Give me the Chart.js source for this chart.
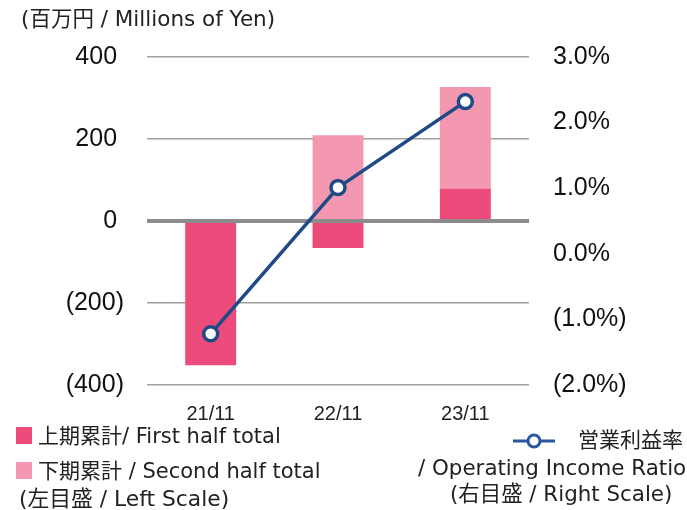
<!DOCTYPE html>
<html>
<head>
<meta charset="utf-8">
<script src="https://cdn.jsdelivr.net/npm/chart.js@4"></script>
<style>
  body { margin: 0; background: #fff; }
  #wrap { position: relative; width: 687px; height: 510px; overflow: hidden; font-family: "DejaVu Sans", "Noto Sans CJK JP", sans-serif; color: #222; }
  #grafico { position: absolute; left: 0; top: 0; }
  .txt { position: absolute; white-space: nowrap; line-height: 1; font-size: 21px; }
  .sw { position: absolute; width: 16px; height: 17px; }
</style>
</head>
<body>
<div id="wrap">
  <canvas id="grafico" width="687" height="510"></canvas>
  <div class="txt" style="left:21px; top:8px; font-size:21.5px;">(百万円 / Millions of Yen)</div>

  <div class="sw" style="left:16px; top:427px; background:#ec4b7b;"></div>
  <div class="txt" style="left:38px; top:426px;">上期累計/ First half total</div>
  <div class="sw" style="left:16px; top:462px; background:#f497b0;"></div>
  <div class="txt" style="left:38px; top:461px;">下期累計 / Second half total</div>
  <div class="txt" style="left:19px; top:488px; font-size:21.8px;">(左目盛 / Left Scale)</div>

  <canvas id="lineKey" width="46" height="20" style="position:absolute; left:511px; top:431px;"></canvas>
  <div class="txt" style="left:578px; top:430px;">営業利益率</div>
  <div class="txt" style="left:418px; top:457px; font-size:21.4px;">/ Operating Income Ratio</div>
  <div class="txt" style="left:450px; top:483px; font-size:21.4px;">(右目盛 / Right Scale)</div>
</div>
<script>
// data
const labels = ['21/11', '22/11', '23/11'];
const primeiroSemestre = [-352, -66, 79];   // 上期累計 (百万円)
const segundoSemestre = [0, 209, 248];      // 下期累計 (百万円)
const margemOperacional = [-1.22, 1.01, 2.32]; // 営業利益率 (%)
const ticksEsquerda = [-400, -200, 0, 200, 400];
const ticksDireita = [-2, -1, 0, 1, 2, 3];

const corEscura = '#ec4b7b';
const corClara = '#f497b0';
const corLinha = '#1f4a85';

// small legend key for the line series
const key = document.getElementById('lineKey').getContext('2d');
key.strokeStyle = '#2a57a0';
key.lineWidth = 3;
key.beginPath(); key.moveTo(2, 10); key.lineTo(44, 10); key.stroke();
key.fillStyle = '#fff';
key.beginPath(); key.arc(23, 10, 6, 0, Math.PI * 2); key.fill(); key.stroke();

// thick zero line, drawn over the bars but under the ratio line
const linhaZero = {
    id: 'linhaZero',
    beforeDatasetDraw(chart, args) {
        if (args.meta.type !== 'line') return;
        const y = chart.scales.y.getPixelForValue(0);
        const { left, right } = chart.chartArea;
        const ctx = chart.ctx;
        ctx.save();
        ctx.strokeStyle = '#8c8c8c';
        ctx.lineWidth = 4;
        ctx.beginPath();
        ctx.moveTo(left, y);
        ctx.lineTo(right, y);
        ctx.stroke();
        ctx.restore();
    }
};

new Chart(document.getElementById('grafico'), {
    type: 'bar',
    data: {
        labels: labels,
        datasets: [
            {
                label: '上期累計/ First half total',
                data: primeiroSemestre,
                backgroundColor: corEscura,
                yAxisID: 'y',
                stack: 's',
                order: 1,
                barPercentage: 0.4,
                categoryPercentage: 1
            },
            {
                label: '下期累計 / Second half total',
                data: segundoSemestre,
                backgroundColor: corClara,
                yAxisID: 'y',
                stack: 's',
                order: 1,
                barPercentage: 0.4,
                categoryPercentage: 1
            },
            {
                type: 'line',
                label: '営業利益率 / Operating Income Ratio',
                data: margemOperacional,
                yAxisID: 'y1',
                order: 0,
                borderColor: corLinha,
                borderWidth: 3.5,
                pointRadius: 7,
                pointBorderWidth: 3.5,
                pointBackgroundColor: '#fff',
                pointBorderColor: corLinha,
                tension: 0
            }
        ]
    },
    options: {
        responsive: false,
        animation: false,
        layout: { padding: { top: 57, left: 0, right: 0, bottom: 0 } },
        plugins: { legend: { display: false }, tooltip: { enabled: false } },
        scales: {
            x: {
                stacked: true,
                grid: { display: false },
                border: { display: false },
                ticks: { color: '#222', padding: 9, font: { family: 'Liberation Sans', size: 20 } },
                afterFit: (s) => { s.height = 125; }
            },
            y: {
                position: 'left',
                stacked: true,
                min: -400,
                max: 400,
                afterBuildTicks: (s) => { s.ticks = ticksEsquerda.map(v => ({ value: v })); },
                grid: {
                    drawTicks: false,
                    color: (c) => c.tick && c.tick.value === 0 ? 'rgba(0,0,0,0)' : '#a0a0a0',
                    lineWidth: 1.5
                },
                border: { display: false },
                ticks: {
                    color: '#111',
                    padding: 23,
                    font: { family: 'Liberation Sans', size: 25 },
                    callback: (v) => v < 0 ? '(' + Math.abs(v) + ')' : v + ' '
                },
                afterFit: (s) => { s.width = 147; }
            },
            y1: {
                position: 'right',
                min: -2,
                max: 3,
                afterBuildTicks: (s) => { s.ticks = ticksDireita.map(v => ({ value: v })); },
                grid: { display: false, drawTicks: false },
                border: { display: false },
                ticks: {
                    color: '#111',
                    padding: 24,
                    font: { family: 'Liberation Sans', size: 25 },
                    callback: (v) => v < 0 ? '(' + Math.abs(v).toFixed(1) + '%)' : v.toFixed(1) + '%'
                },
                afterFit: (s) => { s.width = 687 - 529; }
            }
        }
    },
    plugins: [linhaZero]
});
</script>
</body>
</html>
